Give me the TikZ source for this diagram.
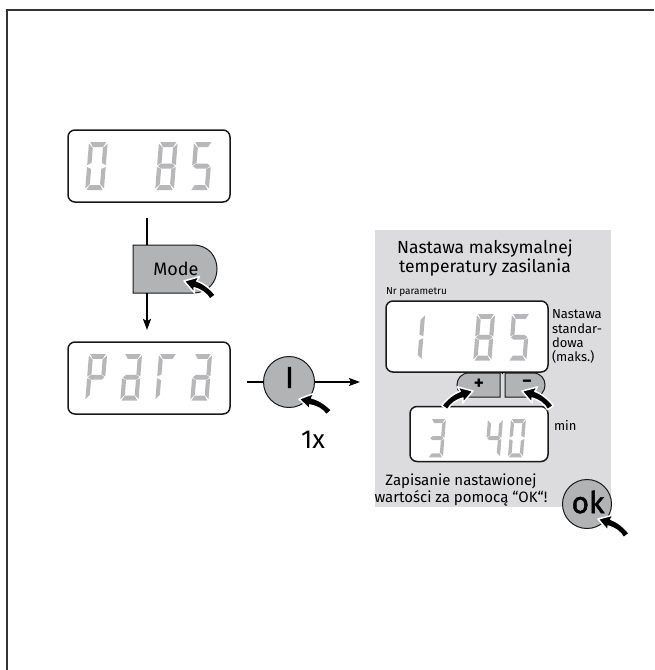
\documentclass[tikz,border=0pt]{standalone}
\usepackage{fontspec}
\setmainfont{Fira Sans}
\setsansfont{Fira Sans}
\newfontfamily\medfont[FakeBold=1.5]{Fira Sans}
\usetikzlibrary{arrows.meta}
\definecolor{btn}{HTML}{B2B3B5}
\definecolor{panelc}{HTML}{DCDCDE}
\definecolor{segc}{HTML}{B7B7B9}
\newcommand\sevseg[1]{%
\if a#1\fill[segc] (1.5,0)--(20.5,0)--(17,5)--(5,5)--cycle;\fi
\if b#1\fill[segc] (22,1.5)--(22,23)--(17,21)--(17,6)--cycle;\fi
\if c#1\fill[segc] (22,25)--(22,46.5)--(17,42)--(17,27)--cycle;\fi
\if d#1\fill[segc] (5,43)--(17,43)--(20.5,48)--(1.5,48)--cycle;\fi
\if e#1\fill[segc] (0,25)--(5,27)--(5,42)--(0,46.5)--cycle;\fi
\if f#1\fill[segc] (0,1.5)--(5,6)--(5,21)--(0,23)--cycle;\fi
\if g#1\fill[segc] (1,24)--(4.5,21.5)--(17.5,21.5)--(21,24)--(17.5,26.5)--(4.5,26.5)--cycle;\fi}
\newcommand\sevdigit[4]{\begin{scope}[shift={(#1,#2)},xslant=0.08,xscale=0.85*#3,yscale=#3]\foreach \s in {#4}{\sevseg{\s}}\end{scope}}
\tikzset{
  disp/.style={draw=black!90, line width=1.5pt, rounded corners=7pt, fill=white},
  conn/.style={line width=1.5pt, black},
  arrowconn/.style={line width=1.5pt, black, -{Stealth[length=11pt,width=8pt,inset=2pt]}},
  btnshape/.style={fill=btn, draw=black!90, line width=1pt},
  pointer/.pic={\filldraw[fill=black,draw=white,line width=1.5pt,line join=round]
     (0,0) -- (14,-8) -- (12.5,-3) .. controls (20,-2.5) and (28,1.5) .. (34,6)
     -- (29.5,11.5) .. controls (25,6.5) and (18,4.2) .. (11.5,4.2) -- (13,9) -- cycle;},
  lbl/.style={font=\fontsize{13}{14.2}\selectfont, align=left},
}
\begin{document}
\begin{tikzpicture}[x=1pt,y=-1pt, every node/.style={inner sep=0pt, outer sep=0pt}]
\useasboundingbox (0,0) rectangle (654,670);
\fill[white] (0,0) rectangle (654,670);
\draw[line width=1.6pt, black!80] (7,670) -- (7,10) -- (654,10);

% right panel
\node[fill=panelc, minimum width=236pt, minimum height=277pt] (panel) at (493,368.5) {};
\node[align=center, font=\fontsize{17.5}{19}\selectfont] (title) at (485,258) {Nastawa maksymalnej\\temperatury zasilania};
\node[anchor=west, font=\fontsize{10}{11}\selectfont] (nrp) at (386,292) {Nr parametru};

% displays
\node[disp, minimum width=162pt, minimum height=72pt] (d1) at (149,166) {};
\node[disp, minimum width=162pt, minimum height=72pt] (d2) at (149,378) {};
\node[disp, minimum width=162pt, minimum height=71pt] (d3) at (467,336.5) {};
\node[disp, minimum width=138pt, minimum height=55pt] (d4) at (479,434) {};

% digits: 0 85
\sevdigit{89}{142}{1}{a,b,c,d,e,f}
\sevdigit{159}{142}{1}{a,b,c,d,e,f,g}
\sevdigit{194}{142}{1}{a,c,d,f,g}
% Para
\sevdigit{89}{354}{0.97}{a,b,e,f,g}
\sevdigit{124}{354}{0.97}{a,b,c,d,e,g}
\sevdigit{159}{354}{0.97}{a,e,f}
\sevdigit{194}{354}{0.97}{a,b,c,d,e,g}
% 1 85
\sevdigit{407}{314}{0.97}{b,c}
\sevdigit{477}{314}{0.97}{a,b,c,d,e,f,g}
\sevdigit{512}{314}{0.97}{a,c,d,f,g}
% 3 40
\sevdigit{431}{419}{0.8}{a,b,c,d,g}
\sevdigit{488}{419}{0.8}{b,c,f,g}
\sevdigit{511}{419}{0.8}{a,b,c,d,e,f}

% Mode button
\filldraw[btnshape] (133,245) -- (193,245) .. controls (225,245) and (225,293) .. (193,293) -- (133,293) -- cycle;
\node[minimum width=84pt, minimum height=48pt] (modebtn) at (175,269) {};
\node[font=\fontsize{18}{18}\selectfont] (mode) at (176,269) {Mode};
\pic[rotate=-14] at (184,281) {pointer};

% connectors left column
\coordinate (c1) at (147,218);
\draw[conn] (c1) -- (c1 |- modebtn.north);
\draw[arrowconn, shorten >=12pt] (c1 |- modebtn.south) -- (c1 |- d2.north);

% I button
\node[circle, draw=black!90, line width=1pt, fill=btn, minimum size=51pt] (ibtn) at (289,382) {};
\node[font=\fontsize{30}{30}\medfont] (itxt) at (289.5,377.5) {I};
\pic[rotate=-9] at (299,399) {pointer};
\coordinate (c3) at (247,382);
\coordinate (c4) at (360,382);
\draw[conn] (c3) -- (ibtn.west);
\draw[arrowconn] (ibtn.east) -- (c4);
\node[font=\fontsize{26}{26}\selectfont] (onex) at (313,440) {1x};

% plus / minus
\filldraw[btnshape] (500,373) -- (469,373) .. controls (453,373) and (453,397) .. (469,397) -- (500,397) -- cycle;
\filldraw[btnshape] (505,373) -- (533,373) .. controls (549,373) and (549,397) .. (533,397) -- (505,397) -- cycle;
\node[font=\fontsize{19}{19}\selectfont\bfseries] (plus) at (479,384.5) {+};
\node[font=\fontsize{19}{19}\selectfont\bfseries] (minus) at (527,384) {−};
\fill (502.5,373) circle (1.2);
\pic[rotate=15, xscale=-1] at (473,391) {pointer};
\pic[rotate=-15] at (522,391) {pointer};

% labels
\node[lbl, anchor=north west] (std) at (552,310) {Nastawa\\standar-\\dowa\\(maks.)};
\node[lbl, anchor=west] (minl) at (554,425) {min};
\node[align=center, font=\fontsize{15}{16.5}\selectfont] (save) at (461,490) {Zapisanie nastawionej\\wartości za pomocą “OK“!};

% ok button
\node[circle, draw=black!90, line width=1pt, fill=btn, minimum size=49pt] (okbtn) at (587,504) {};
\node[font=\fontsize{30}{30}\medfont] (oktxt) at (588,502) {ok};
\pic[rotate=-15] at (598,519) {pointer};
\end{tikzpicture}
\end{document}
